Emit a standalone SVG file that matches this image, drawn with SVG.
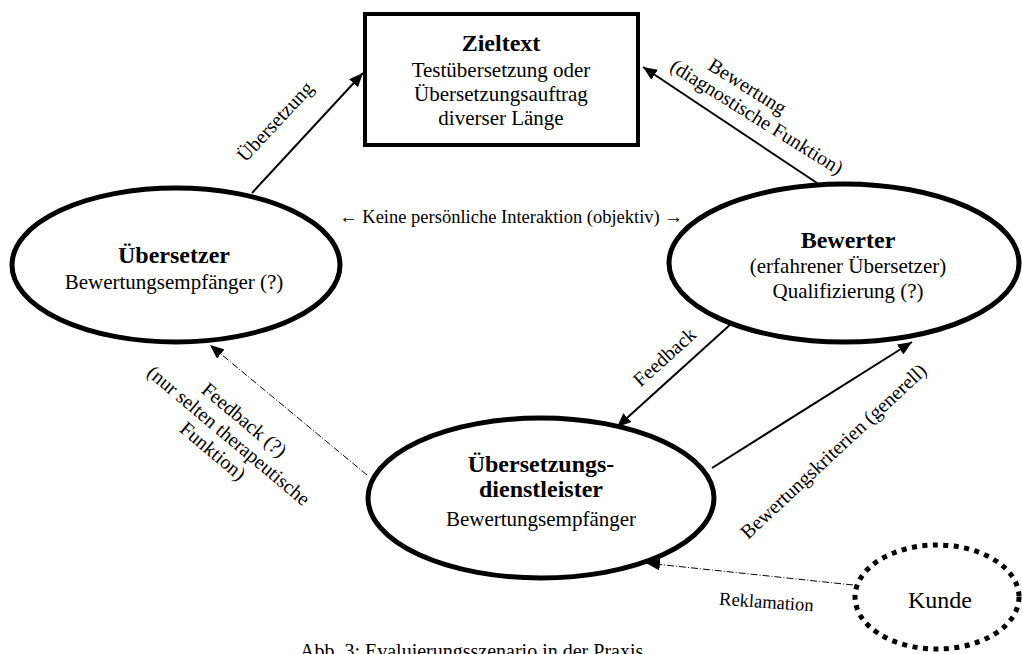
<svg xmlns="http://www.w3.org/2000/svg" width="1022" height="654" viewBox="0 0 1022 654">
<style>
text{font-family:"Liberation Serif","Times New Roman",serif;fill:#000}
.t{font-size:21px;text-anchor:middle}
.b{font-size:24px;font-weight:bold;text-anchor:middle}
.l{font-size:20px;text-anchor:middle}
.node{fill:#fff;stroke:#000;stroke-width:5}
.solid{stroke:#000;stroke-width:2;fill:none}
.dd{stroke:#000;stroke-width:1;fill:none;stroke-dasharray:7 2 1 2}
</style>
<defs>
<marker id="ah" viewBox="0 0 14 12" refX="14" refY="6" markerWidth="14" markerHeight="12" markerUnits="userSpaceOnUse" orient="auto">
<path d="M0,0 L14,6 L0,12 z" fill="#000"/>
</marker>
</defs>
<rect width="1022" height="654" fill="#fff"/>
<g id="connectors">
<line class="solid" x1="252" y1="193" x2="363" y2="73" marker-end="url(#ah)"/>
<line class="solid" x1="820" y1="185" x2="643" y2="67" marker-end="url(#ah)"/>
<line class="solid" x1="732" y1="323" x2="617" y2="427" marker-end="url(#ah)"/>
<line class="solid" x1="712" y1="468" x2="912" y2="342" marker-end="url(#ah)"/>
<line class="dd" x1="367" y1="475" x2="210" y2="345" marker-end="url(#ah)"/>
<line class="dd" x1="853" y1="585" x2="646" y2="563" marker-end="url(#ah)"/>
<text class="l" transform="translate(280,126) rotate(-47)">Übersetzung</text>
<g transform="translate(744,92) rotate(32)">
<text class="l" x="0" y="0">Bewertung</text>
<text class="l" x="24" y="21">(diagnostische Funktion)</text>
</g>
<text class="l" transform="translate(669,362) rotate(-42)">Feedback</text>
<text class="l" transform="translate(838,456) rotate(-43)">Bewertungskriterien (generell)</text>
<g transform="translate(240,425) rotate(40)">
<text class="l" x="0" y="0">Feedback (?)</text>
<text class="l" x="-2" y="22">(nur selten therapeutische</text>
<text class="l" x="-4" y="44">Funktion)</text>
</g>
<text class="l" transform="translate(766,608) rotate(4)" style="font-size:18.5px">Reklamation</text>
<text class="l" x="511" y="223" style="font-size:18.5px">← Keine persönliche Interaktion (objektiv) →</text>
</g>
<g id="zieltext">
<rect x="365" y="14" width="273" height="131" fill="#fff" stroke="#000" stroke-width="4"/>
<text class="b" x="501" y="51">Zieltext</text>
<text class="t" x="501" y="77">Testübersetzung oder</text>
<text class="t" x="501" y="101">Übersetzungsauftrag</text>
<text class="t" x="501" y="125">diverser Länge</text>
</g>
<g id="uebersetzer">
<ellipse class="node" cx="176" cy="265" rx="164" ry="77"/>
<text class="b" x="174" y="263">Übersetzer</text>
<text class="t" x="174" y="289">Bewertungsempfänger (?)</text>
</g>
<g id="bewerter">
<ellipse class="node" cx="844" cy="263" rx="175" ry="79"/>
<text class="b" x="848" y="248">Bewerter</text>
<text class="t" x="848" y="273">(erfahrener Übersetzer)</text>
<text class="t" x="848" y="298">Qualifizierung (?)</text>
</g>
<g id="dienstleister">
<ellipse class="node" cx="541" cy="498" rx="173" ry="80"/>
<text class="b" x="541" y="472">Übersetzungs-</text>
<text class="b" x="541" y="497">dienstleister</text>
<text class="t" x="541" y="526">Bewertungsempfänger</text>
</g>
<g id="kunde">
<ellipse cx="937" cy="597" rx="82" ry="52" fill="none" stroke="#000" stroke-width="5" stroke-dasharray="5 5.5"/>
<text x="940" y="608" style="font-size:24px;text-anchor:middle">Kunde</text>
</g>
<text x="300" y="658" style="font-size:20px">Abb. 3: Evaluierungsszenario in der Praxis</text>
</svg>
